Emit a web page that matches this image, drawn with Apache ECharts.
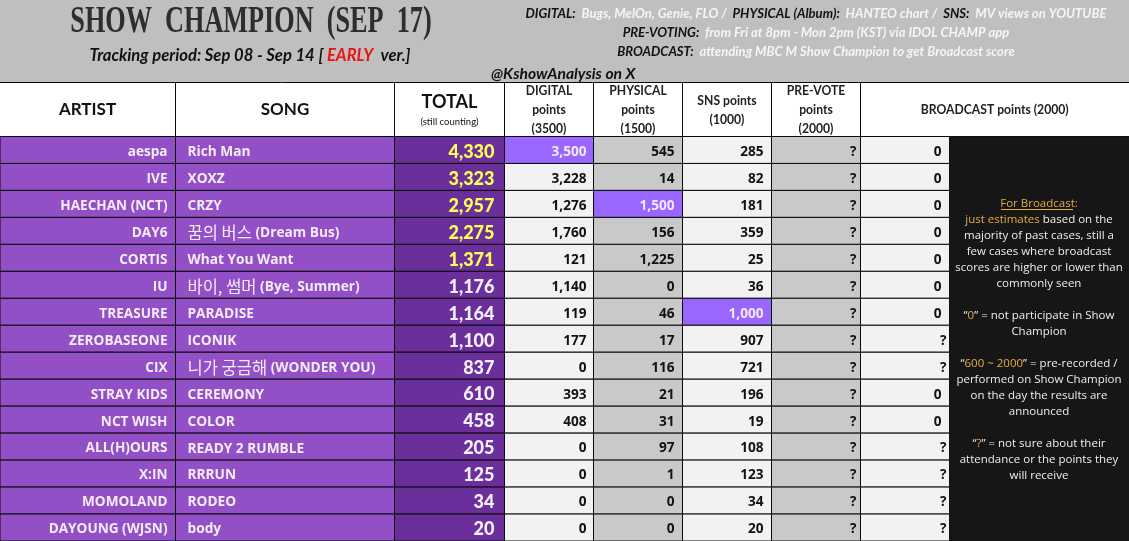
<!DOCTYPE html>
<html>
<head>
<meta charset="utf-8">
<style>html,body{margin:0;padding:0;background:#fff}#main{width:1129px;height:541px}</style>
<script src="https://cdn.jsdelivr.net/npm/echarts@6/dist/echarts.min.js"></script>
</head>
<body>
<div id="main"></div>
<script>
const artists = ['aespa', 'IVE', 'HAECHAN (NCT)', 'DAY6', 'CORTIS', 'IU', 'TREASURE', 'ZEROBASEONE', 'CIX', 'STRAY KIDS', 'NCT WISH', 'ALL(H)OURS', 'X:IN', 'MOMOLAND', 'DAYOUNG (WJSN)']
const songs = ['Rich Man', 'XOXZ', 'CRZY', '꿈의 버스 (Dream Bus)', 'What You Want', '바이, 썸머 (Bye, Summer)', 'PARADISE', 'ICONIK', '니가 궁금해 (WONDER YOU)', 'CEREMONY', 'COLOR', 'READY 2 RUMBLE', 'RRRUN', 'RODEO', 'body']
const totals = [4330, 3323, 2957, 2275, 1371, 1176, 1164, 1100, 837, 610, 458, 205, 125, 34, 20]
const digital = [3500, 3228, 1276, 1760, 121, 1140, 119, 177, 0, 393, 408, 0, 0, 0, 0]
const physical = [545, 14, 1500, 156, 1225, 0, 46, 17, 116, 21, 31, 97, 1, 0, 0]
const sns = [285, 82, 181, 359, 25, 36, 1000, 907, 721, 196, 19, 108, 123, 34, 20]
const preVote = ['?', '?', '?', '?', '?', '?', '?', '?', '?', '?', '?', '?', '?', '?', '?']
const broadcast = [0, 0, 0, 0, 0, 0, 0, '?', '?', 0, 0, '?', '?', '?', '?']

const headerLabels = [
    ['ARTIST'], ['SONG'], ['TOTAL'],
    ['DIGITAL', 'points', '(3500)'], ['PHYSICAL', 'points', '(1500)'], ['SNS points', '(1000)'],
    ['PRE-VOTE', 'points', '(2000)'], ['BROADCAST points (2000)']
]
const panelLines = [
    '{gu|For Broadcast}{g|:}',
    '{g|just estimates} based on the',
    'majority of past cases, still a',
    'few cases where broadcast',
    'scores are higher or lower than',
    'commonly seen',
    '',
    '“{g|0}” = not participate in Show',
    'Champion',
    '',
    '“{g|600 ~ 2000}” = pre-recorded /',
    'performed on Show Champion',
    'on the day the results are',
    'announced',
    '',
    '“{g|?}” = not sure about their',
    'attendance or the points they',
    'will receive'
]

const sans = '"Open Sans"'
const lato = 'Lato'
const edges = [-20, 175.5, 394.5, 504.5, 593.5, 682.5, 771.5, 860.5, 949.5]
const tableTop = 136.5
const rowH = 27

const fmt = v => typeof v === 'number' ? v.toLocaleString('en-US') : v
const hangul = s => s.replace(/^([^()]*[\uAC00-\uD7A3][^()]*) (\(.*)$/, '{ko|$1} $2')

// one grid + one custom series per table column
const columns = [
    { values: artists, fill: '#9350c6', color: '#f4ecf8', align: 'right', pad: 8, font: `bold 13.6px ${sans}` },
    { values: songs, fill: '#9350c6', color: '#f4ecf8', align: 'left', pad: 12, font: `bold 13.7px ${sans}` },
    { values: totals, fill: '#6b2f9c', color: (v, i) => i < 5 ? '#ffff55' : '#f6f0fa', align: 'right', pad: 10, font: `900 18px ${lato}` },
    { values: digital, fill: '#f2f2f2', max: 3500, align: 'right', pad: 7, font: `bold 13.6px ${sans}` },
    { values: physical, fill: '#c9c9c9', max: 1500, align: 'right', pad: 8, font: `bold 13.6px ${sans}` },
    { values: sns, fill: '#f2f2f2', max: 1000, align: 'right', pad: 8, font: `bold 13.6px ${sans}` },
    { values: preVote, fill: '#c9c9c9', align: 'right', pad: 4, font: `bold 13.6px ${sans}` },
    { values: broadcast, fill: '#f2f2f2', align: 'right', pad: v => v === '?' ? 3 : 8, font: `bold 13.6px ${sans}` }
]

const grids = [], xAxes = [], yAxes = [], series = []
columns.forEach((col, c) => {
    grids.push({ left: edges[c], top: tableTop, width: edges[c + 1] - edges[c], height: rowH * artists.length, containLabel: false })
    xAxes.push({ type: 'category', gridIndex: c, data: ['col'], show: false })
    yAxes.push({ type: 'category', gridIndex: c, data: artists, inverse: true, show: false })
    series.push({
        type: 'custom',
        xAxisIndex: c,
        yAxisIndex: c,
        silent: true,
        animation: false,
        data: col.values.map((v, i) => [0, i]),
        renderItem: (params, api) => {
            const i = api.value(1)
            const v = col.values[i]
            const center = api.coord([0, i])
            const size = api.size([1, 1])
            const x = center[0] - size[0] / 2
            const isMax = col.max === v
            const pad = typeof col.pad === 'function' ? col.pad(v) : col.pad
            let color = typeof col.color === 'function' ? col.color(v, i) : (col.color || '#111')
            if (isMax) color = '#f1eaff'
            return {
                type: 'group',
                children: [
                    {
                        type: 'rect',
                        shape: { x: x, y: center[1] - size[1] / 2, width: size[0], height: size[1] },
                        style: { fill: isMax ? '#9966ff' : col.fill, stroke: '#0a0a0a', lineWidth: 1 }
                    },
                    {
                        type: 'text',
                        style: {
                            text: typeof v === 'string' ? hangul(v) : fmt(v),
                            x: col.align === 'right' ? x + size[0] - pad : x + pad,
                            y: center[1] + 2,
                            align: col.align,
                            verticalAlign: 'middle',
                            font: col.font,
                            fill: color,
                            rich: { ko: { font: '16.5px "Noto Sans CJK KR"', fill: color } }
                        }
                    }
                ]
            }
        }
    })
})

const text = (str, x, y, font, fill, extra, scaleX) => ({
    type: 'text', silent: true, z: 10, x: x, y: y, scaleX: scaleX || 1,
    style: Object.assign({ text: str, x: 0, y: 0, font: font, fill: fill, align: 'center', verticalAlign: 'middle' }, extra || {})
})

const infoRich = {
    d: { font: `italic bold 14px ${lato}`, fill: '#111' },
    w: { font: `italic bold 14px ${lato}`, fill: '#f5f5f5' }
}
const graphics = [
    { type: 'rect', silent: true, z: 1, shape: { x: 0, y: 0, width: 1129, height: 82 }, style: { fill: '#bfbfbf' } },
    { type: 'rect', silent: true, z: 1, shape: { x: -20, y: 82.5, width: 1170, height: 54 }, style: { fill: '#fff', stroke: '#0a0a0a', lineWidth: 1 } },
    { type: 'rect', silent: true, z: 5, shape: { x: 949.5, y: 136.5, width: 180, height: 405 }, style: { fill: '#161616' } },
    text('SHOW  CHAMPION  (SEP  17)', 251, 22, 'bold 38px "Liberation Serif"', '#2e2e2e', null, 0.69),
    text('{a|Tracking period: Sep 08 - Sep 14 [ }{r|EARLY}{a|  ver.]}', 250, 56, `italic bold 16.6px ${lato}`, '#111', {
        rich: { a: { font: `italic bold 16.6px ${lato}`, fill: '#111' }, r: { font: `italic bold 16.6px ${lato}`, fill: '#ee1111' } }
    }),
    text('{d|DIGITAL:}  {w|Bugs, MelOn, Genie, FLO /}  {d|PHYSICAL (Album):}  {w|HANTEO chart /}  {d|SNS:}  {w|MV views on YOUTUBE}', 816, 13, `italic bold 14px ${lato}`, '#111', { rich: infoRich }, 0.935),
    text('{d|PRE-VOTING:}  {w|from Fri at 8pm - Mon 2pm (KST) via IDOL CHAMP app}', 816, 32, `italic bold 14px ${lato}`, '#111', { rich: infoRich }, 0.935),
    text('{d|BROADCAST:}  {w|attending MBC M Show Champion to get Broadcast score}', 816, 51, `italic bold 14px ${lato}`, '#111', { rich: infoRich }, 0.935),
    text('@KshowAnalysis on X', 491, 74, `italic bold 15.7px ${lato}`, '#111', { align: 'left' }),
    text('(still counting)', 449.5, 122, `9.5px ${lato}`, '#111'),
    text(panelLines.join('\n'), 1039, 339.75, `11.5px ${sans}`, '#eeeeee', {
        lineHeight: 16,
        rich: {
            g: { font: `11.5px ${sans}`, fill: '#e5ad45', lineHeight: 16 },
            gu: { font: `11.5px ${sans}`, fill: '#e5ad45', lineHeight: 16 }
        }
    }),
    { type: 'line', silent: true, z: 10, shape: { x1: 1001, y1: 209.5, x2: 1073, y2: 209.5 }, style: { stroke: '#e5ad45', lineWidth: 1 } }
]

// header row cells, separators follow the same column edges
headerLabels.forEach((lines, c) => {
    const left = edges[c]
    const right = c === headerLabels.length - 1 ? 1129 : edges[c + 1]
    const mid = c === 0 ? 87.5 : (left + right) / 2
    if (c > 0) {
        graphics.push({ type: 'line', silent: true, z: 6, shape: { x1: left, y1: 82.5, x2: left, y2: 136.5 }, style: { stroke: '#0a0a0a', lineWidth: 1 } })
    }
    if (c === 0) {
        graphics.push(text(lines[0], mid, 110, `bold 17px ${lato}`, '#111'))
    } else if (c === 1) {
        graphics.push(text(lines[0], mid, 110, `bold 17px ${lato}`, '#111'))
    } else if (c === 2) {
        graphics.push(text(lines[0], mid, 102, `bold 18px ${lato}`, '#111'))
    } else {
        const start = 110 - (lines.length - 1) * 9.5
        lines.forEach((line, k) => {
            graphics.push(text(line, mid, start + k * 19, `bold 12.8px ${lato}`, '#222', null, 0.95))
        })
    }
})

const myChart = echarts.init(document.querySelector('#main'), null, { renderer: 'canvas' })
myChart.setOption({
    animation: false,
    backgroundColor: '#fff',
    grid: grids,
    xAxis: xAxes,
    yAxis: yAxes,
    series: series,
    graphic: { elements: graphics }
})
</script>
</body>
</html>
